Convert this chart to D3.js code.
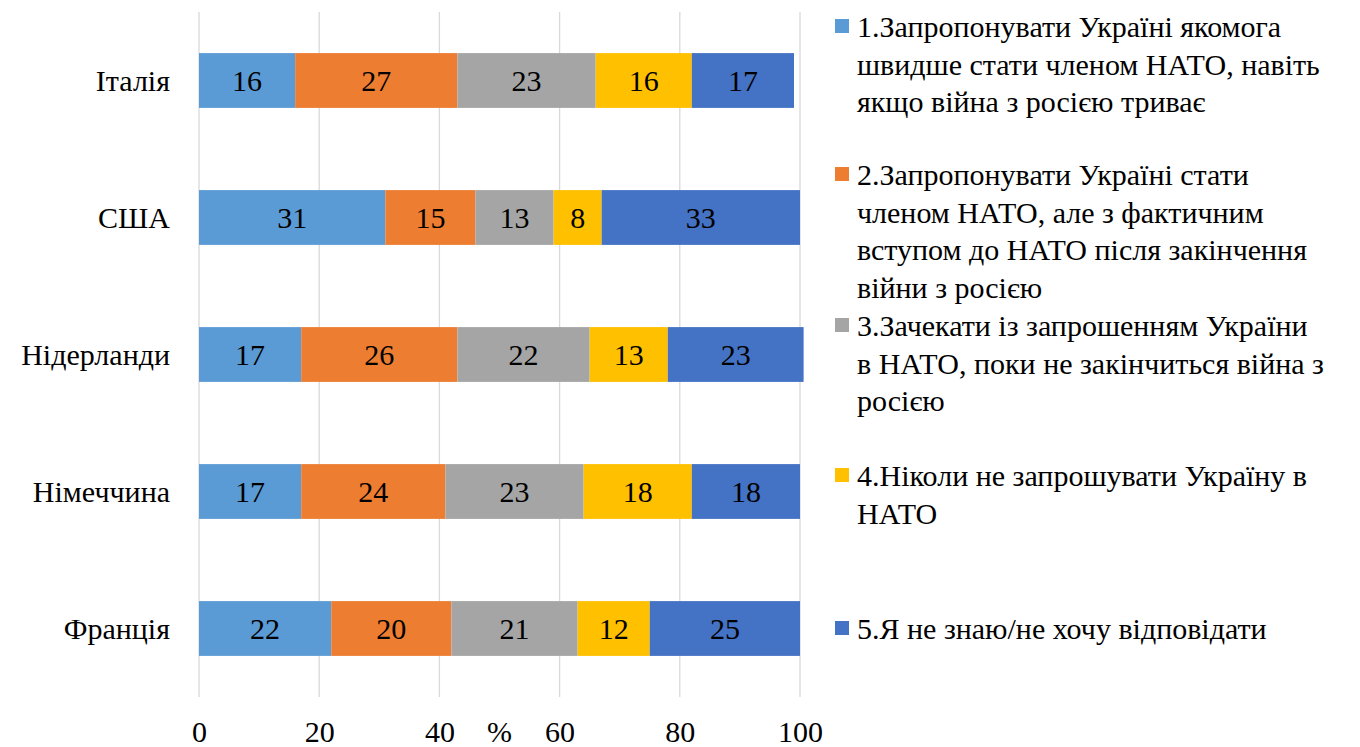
<!DOCTYPE html>
<html>
<head>
<meta charset="utf-8">
<script src="https://cdn.jsdelivr.net/npm/d3@7"></script>
<style>
  html, body { margin: 0; padding: 0; background: #fff; font-family: "Liberation Serif", "Times New Roman", serif; }
  svg { display: block; }
</style>
</head>
<body>
<svg id="chart" width="1360" height="747" font-family="Liberation Serif, Times New Roman, serif"></svg>
<script>
// ---- Data ----
const categories = ["Італія", "США", "Нідерланди", "Німеччина", "Франція"];
const seriesNames = [
  ["1.Запропонувати Україні якомога", "швидше стати членом НАТО, навіть", "якщо війна з росією триває"],
  ["2.Запропонувати Україні стати", "членом НАТО, але з фактичним", "вступом до НАТО після закінчення", "війни з росією"],
  ["3.Зачекати із запрошенням України", "в НАТО, поки не закінчиться війна з", "росією"],
  ["4.Ніколи не запрошувати Україну в", "НАТО"],
  ["5.Я не знаю/не хочу відповідати"]
];
const s1 = [16, 31, 17, 17, 22];
const s2 = [27, 15, 26, 24, 20];
const s3 = [23, 13, 22, 23, 21];
const s4 = [16, 8, 13, 18, 12];
const s5 = [17, 33, 22.6, 18, 25];
const xTicks = [0, 20, 40, 60, 80, 100];
const axisTitle = "%";
const colors = ["#5B9BD5", "#ED7D31", "#A5A5A5", "#FFC000", "#4472C4"];

// ---- Layout ----
const FONT = "Liberation Serif";
const svg = d3.select("#chart");
const plot = { left: 199, right: 800, top: 12, bottom: 697 };
const fs = 30;

const x = d3.scaleLinear().domain([0, 100]).range([plot.left, plot.right]);
const y = d3.scaleBand().domain(categories).range([plot.top, plot.bottom])
  .paddingInner(0.6).paddingOuter(0.3);

// gridlines
svg.append("g").selectAll("line").data(xTicks).join("line")
  .attr("x1", d => x(d)).attr("x2", d => x(d))
  .attr("y1", plot.top).attr("y2", plot.bottom)
  .attr("stroke", "#D9D9D9").attr("stroke-width", 1.3);

// stacked bars
const allSeries = [s1, s2, s3, s4, s5];
const rows = categories.map((c, i) => {
  const o = { cat: c };
  allSeries.forEach((s, k) => o["k" + k] = s[i]);
  return o;
});
const keys = allSeries.map((s, k) => "k" + k);
const stacked = d3.stack().keys(keys)(rows);

const layers = svg.append("g").selectAll("g").data(stacked).join("g")
  .attr("fill", (d, i) => colors[i]);
layers.selectAll("rect").data(d => d).join("rect")
  .attr("x", d => x(d[0]))
  .attr("width", d => x(d[1]) - x(d[0]))
  .attr("y", d => y(d.data.cat))
  .attr("height", y.bandwidth());

// value labels
const labels = svg.append("g");
stacked.forEach((layer, k) => {
  labels.selectAll(null).data(layer).join("text")
    .attr("x", d => (x(d[0]) + x(d[1])) / 2)
    .attr("y", d => y(d.data.cat) + y.bandwidth() / 2 + 10)
    .attr("text-anchor", "middle")
    .attr("font-family", FONT)
    .attr("font-size", fs)
    .text(d => Math.round(d[1] - d[0]));
});

// category labels
svg.append("g").selectAll("text").data(categories).join("text")
  .attr("x", plot.left - 29)
  .attr("y", d => y(d) + y.bandwidth() / 2 + 10)
  .attr("text-anchor", "end")
  .attr("font-family", FONT)
  .attr("font-size", fs)
  .text(d => d);

// x-axis tick labels
const xAxis = d3.axisBottom(x).tickValues(xTicks).tickSize(0).tickPadding(0);
const gx = svg.append("g").attr("transform", `translate(0,${plot.bottom})`).call(xAxis);
gx.select(".domain").remove();
gx.attr("font-family", FONT).attr("font-size", fs);
gx.selectAll("text")
  .attr("font-family", FONT)
  .attr("font-size", fs)
  .attr("fill", "#000")
  .attr("dy", null)
  .attr("y", 45);

// axis title
svg.append("text")
  .attr("x", (plot.left + plot.right) / 2)
  .attr("y", plot.bottom + 45)
  .attr("text-anchor", "middle")
  .attr("font-family", FONT)
  .attr("font-size", fs)
  .text(axisTitle);

// legend
const legendX = 835, textX = 857, lineH = 37.5, sq = 14;
const firstBaselines = [37, 185, 336, 486, 639];
const leg = svg.append("g");
seriesNames.forEach((lines, i) => {
  const b = firstBaselines[i];
  leg.append("rect")
    .attr("x", legendX).attr("y", b - 11 - sq / 2)
    .attr("width", sq).attr("height", sq)
    .attr("fill", colors[i]);
  const t = leg.append("text").attr("font-size", fs).attr("font-family", FONT)
    .attr("x", textX).attr("y", b);
  lines.forEach((ln, j) => {
    t.append("tspan").attr("x", textX).attr("y", b + j * lineH).text(ln);
  });
});
</script>
</body>
</html>
